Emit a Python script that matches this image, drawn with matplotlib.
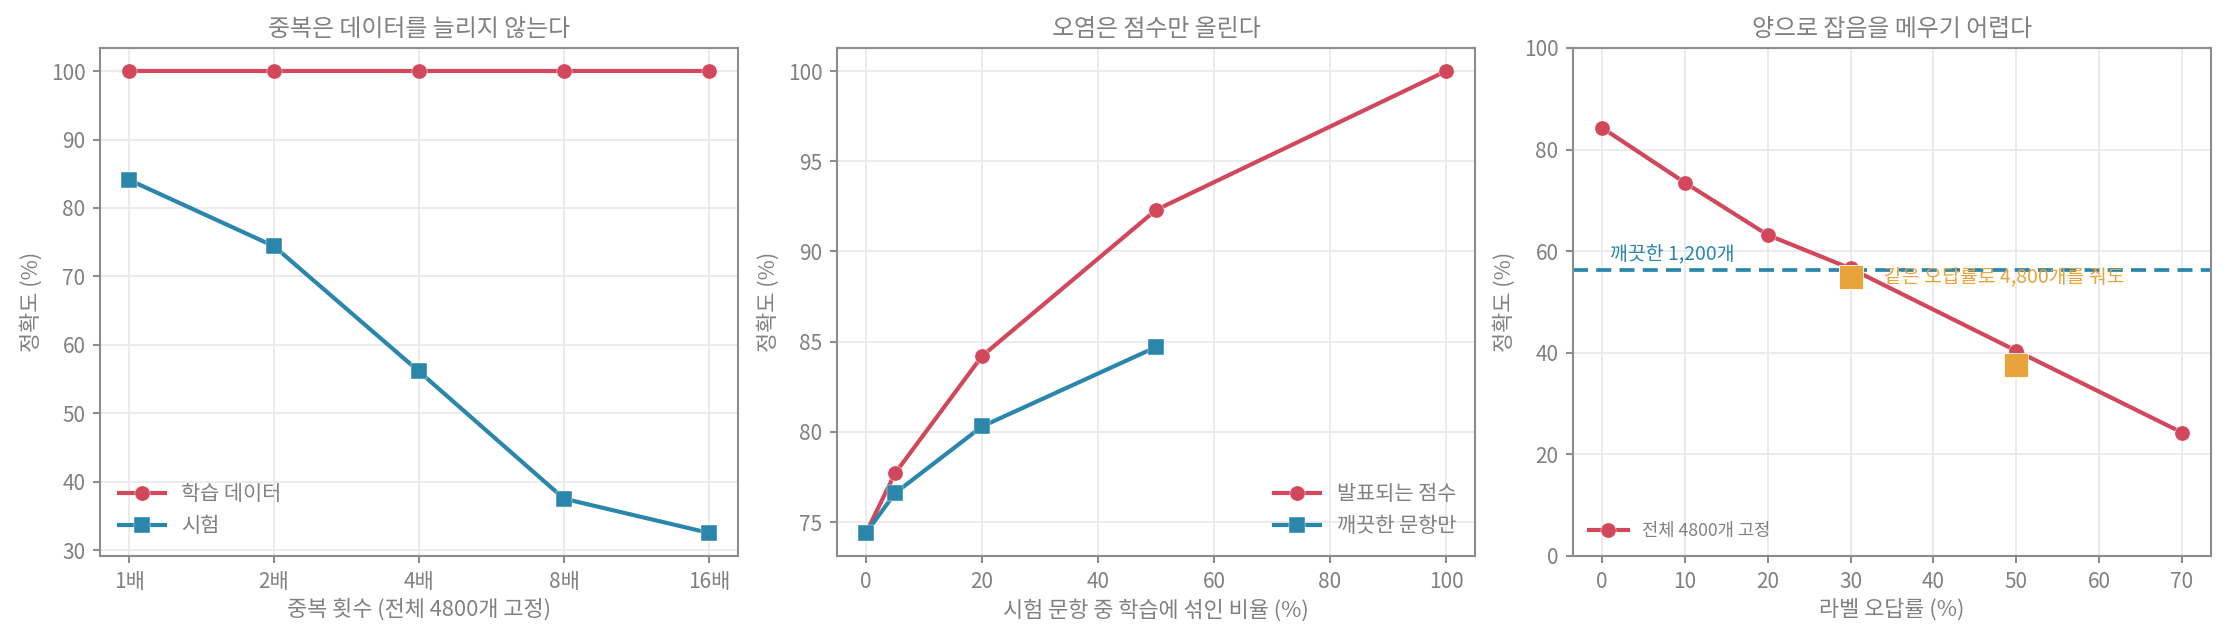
import matplotlib
matplotlib.use("Agg")
import matplotlib.pyplot as plt

plt.rcParams['font.family'] = ['Noto Sans CJK KR', 'DejaVu Sans']
plt.rcParams['axes.unicode_minus'] = False

# ---- data ----
dup_labels = ['1배', '2배', '4배', '8배', '16배']
dup_train = [100, 100, 100, 100, 100]
dup_test = [84.1, 74.4, 56.1, 37.5, 32.5]

contam_x = [0, 5, 20, 50, 100]
contam_reported = [74.4, 77.7, 84.2, 92.3, 100]
contam_clean_x = [0, 5, 20, 50]
contam_clean = [74.4, 76.6, 80.3, 84.7]

noise_x = [0, 10, 20, 30, 50, 70]
noise_acc = [84.3, 73.5, 63.2, 56.6, 40.4, 24.3]
noise_big_x = [30, 50]
noise_big = [55.0, 37.6]
clean_small = 56.3

RED = '#d1475b'
BLUE = '#2b86ab'
ORANGE = '#e8a33b'
GRAY = '#808080'
SPINE = '#8c8c8c'
GRID = '#e8e8e8'

fig = plt.figure(figsize=(14.84, 4.28), dpi=150)
W, H = 2226, 642
lefts = [100, 837, 1573]
axw = 638
bottom_px, top_px = 556, 48
axes = [fig.add_axes([l / W, 1 - bottom_px / H, axw / W, (bottom_px - top_px) / H]) for l in lefts]

TICK_FS = 10
LABEL_FS = 10.5
TITLE_FS = 11.5
LEG_FS = 10


def style(ax):
    for s in ax.spines.values():
        s.set_color(SPINE)
        s.set_linewidth(1.0)
    ax.tick_params(colors=SPINE, labelcolor=GRAY, labelsize=TICK_FS, length=3.5, width=1.0)
    ax.grid(True, color=GRID, linewidth=0.8)
    ax.set_axisbelow(True)


def legend(ax, loc, fs):
    leg = ax.legend(loc=loc, frameon=False, fontsize=fs, handlelength=2.2)
    for t in leg.get_texts():
        t.set_color(GRAY)


lw = 2.0
ms = 7.3
mew = 0.2

# Panel 1
ax = axes[0]
style(ax)
xs = list(range(len(dup_labels)))
ax.plot(xs, dup_train, color=RED, marker='o', lw=lw, ms=ms, mec='white', mew=mew, label='학습 데이터')
ax.plot(xs, dup_test, color=BLUE, marker='s', lw=lw, ms=ms, mec='white', mew=mew, label='시험')
ax.set_xticks(xs)
ax.set_xticklabels(dup_labels)
ax.set_title('중복은 데이터를 늘리지 않는다', color=GRAY, fontsize=TITLE_FS, pad=6)
ax.set_xlabel('중복 횟수 (전체 4800개 고정)', color=GRAY, fontsize=LABEL_FS, labelpad=3)
ax.set_ylabel('정확도 (%)', color=GRAY, fontsize=LABEL_FS)
legend(ax, 'lower left', LEG_FS)

# Panel 2
ax = axes[1]
style(ax)
ax.plot(contam_x, contam_reported, color=RED, marker='o', lw=lw, ms=ms, mec='white', mew=mew, label='발표되는 점수')
ax.plot(contam_clean_x, contam_clean, color=BLUE, marker='s', lw=lw, ms=ms, mec='white', mew=mew, label='깨끗한 문항만')
ax.set_yticks([75, 80, 85, 90, 95, 100])
ax.set_title('오염은 점수만 올린다', color=GRAY, fontsize=TITLE_FS, pad=6)
ax.set_xlabel('시험 문항 중 학습에 섞인 비율 (%)', color=GRAY, fontsize=LABEL_FS, labelpad=3)
ax.set_ylabel('정확도 (%)', color=GRAY, fontsize=LABEL_FS)
legend(ax, 'lower right', LEG_FS)

# Panel 3
ax = axes[2]
style(ax)
ax.plot(noise_x, noise_acc, color=RED, marker='o', lw=lw, ms=ms, mec='white', mew=mew, label='전체 4800개 고정')
ax.axhline(clean_small, color=BLUE, lw=1.8, ls='--', dashes=(4, 2.2))
ax.plot(noise_big_x, noise_big, ls='none', marker='s', color=ORANGE, ms=11.5, mec='white', mew=0.4, zorder=5)
ax.text(1, clean_small + 1.2, '깨끗한 1,200개', color=BLUE, fontsize=9.3, va='bottom', ha='left')
ax.text(34, noise_big[0], '같은 오답률로 4,800개를 줘도', color=ORANGE, fontsize=9.3, va='center', ha='left')
ax.set_ylim(0, 100)
ax.set_yticks([0, 20, 40, 60, 80, 100])
ax.set_xticks([0, 10, 20, 30, 40, 50, 60, 70])
ax.set_title('양으로 잡음을 메우기 어렵다', color=GRAY, fontsize=TITLE_FS, pad=6)
ax.set_xlabel('라벨 오답률 (%)', color=GRAY, fontsize=LABEL_FS, labelpad=3)
ax.set_ylabel('정확도 (%)', color=GRAY, fontsize=LABEL_FS)
legend(ax, 'lower left', 8.5)

fig.savefig('out.png', dpi=150)
